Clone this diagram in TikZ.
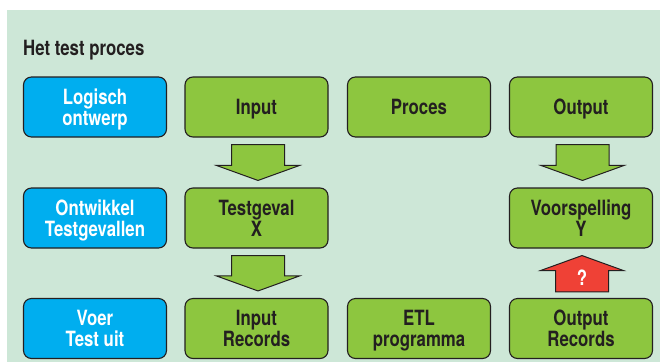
\documentclass[tikz,border=0pt]{standalone}
\usepackage{fontspec}
\setmainfont{TeX Gyre Heros}[FakeStretch=0.8]
\usetikzlibrary{calc}
\definecolor{panel}{HTML}{CDE7D7}
\definecolor{stepblue}{HTML}{00AEEF}
\definecolor{stepgreen}{HTML}{8DC63F}
\definecolor{warnred}{HTML}{EF4136}
\definecolor{ink}{HTML}{231F20}
\tikzset{
  labelfont/.style={font=\fontsize{21}{21}\selectfont\bfseries},
  box/.style={draw=ink, line width=1.1pt, rounded corners=8pt,
    minimum width=143pt, minimum height=60pt, align=center,
    labelfont, inner sep=0pt, text depth=0pt},
  rolebox/.style={box, fill=stepblue, text=white},
  itembox/.style={box, fill=stepgreen, text=ink},
  blockarrow/.style={draw=ink, line width=1pt, line join=miter},
}
\begin{document}
\begin{tikzpicture}[x=1pt,y=-1pt]
  \useasboundingbox (0,0) rectangle (660,362);
  \fill[white] (0,0) rectangle (660,362);
  \fill[panel] (7,10) rectangle (660,362);

  \node[anchor=base west, text=ink, inner sep=0pt, labelfont] (title) at (23,55) {Het test proces};

  % left column: activities
  \node[rolebox] (logisch)   at (95,107)   {Logisch\\ontwerp};
  \node[rolebox] (ontwikkel) at (95,218)   {Ontwikkel\\Testgevallen};
  \node[rolebox] (voer)      at (95,328.5) {Voer\\Test uit};

  % artefacts
  \node[itembox] (input)    at (256.5,107)   {Input};
  \node[itembox] (proces)   at (419,107)     {Proces};
  \node[itembox] (output)   at (581,107)     {Output};
  \node[itembox] (testgev)  at (256.5,218)   {Testgeval\\X};
  \node[itembox] (voorsp)   at (581,218)     {Voorspelling\\Y};
  \node[itembox] (inrec)    at (256.5,328.5) {Input\\Records};
  \node[itembox] (etl)      at (419,328.5)   {ETL\\programma};
  \node[itembox] (outrec)   at (581,328.5)   {Output\\Records};

  % block arrows pointing down: input -> testgeval, testgeval -> input records, output -> voorspelling
  \foreach \a/\b in {input/testgev, testgev/inrec, output/voorsp}{
    \coordinate (t) at ($(\a.south)+(1.5,7)$);
    \coordinate (h) at ($(\b.north)+(1.5,-7)$);
    \draw[blockarrow, fill=stepgreen]
      ($(t)+(-26.5,0)$) -- ($(t)+(26.5,0)$) -- ($(h)+(26.5,-15)$) -- ($(h)+(41.5,-15)$)
      -- (h) -- ($(h)+(-41.5,-15)$) -- ($(h)+(-26.5,-15)$) -- cycle;
  }

  % red block arrow pointing up: output records -> voorspelling
  \coordinate (rb) at ($(outrec.north)+(1,-6)$);
  \coordinate (rt) at ($(voorsp.south)+(1,7)$);
  \draw[blockarrow, fill=warnred]
    ($(rb)+(-26.5,0)$) -- ($(rb)+(26.5,0)$) -- ($(rt)+(26.5,15)$) -- ($(rt)+(41.5,15)$)
    -- (rt) -- ($(rt)+(-41.5,15)$) -- ($(rt)+(-26.5,15)$) -- cycle;
  \node[text=white, font=\fontsize{21}{21}\selectfont\bfseries, inner sep=0pt]
    (vraag) at ($(rb)!0.42!(rt)+(0,1)$) {?};
\end{tikzpicture}
\end{document}
